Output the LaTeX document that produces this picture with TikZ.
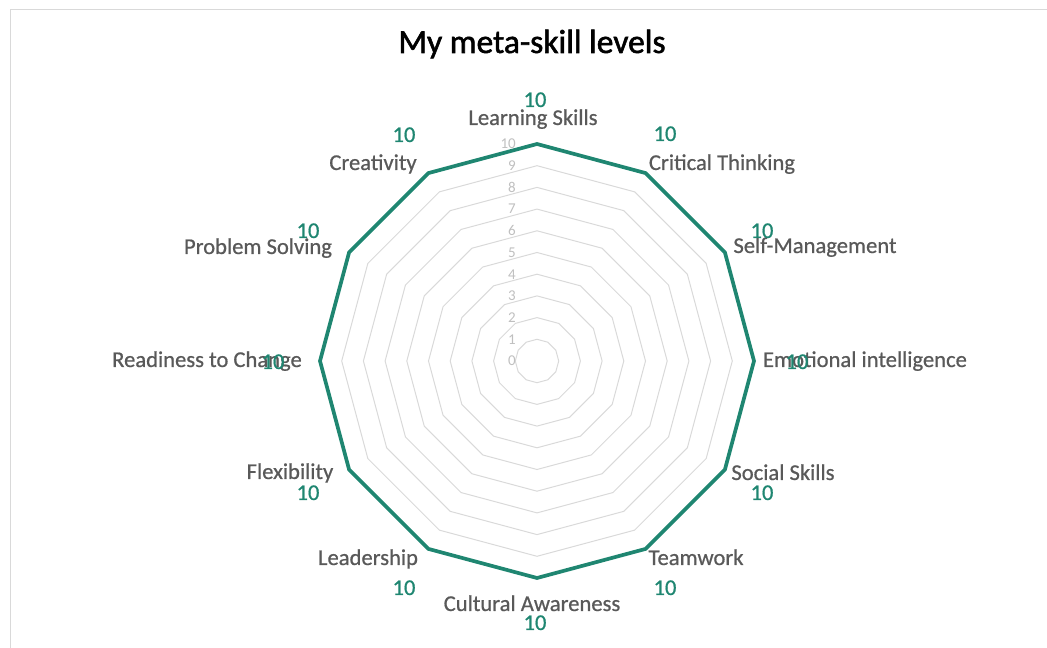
\documentclass[tikz,border=0pt]{standalone}
\usepackage{fontspec}
\setmainfont{Carlito}
\newfontfamily\chartfont{Carlito}[FakeBold=0.7]
\newfontfamily\titlefont{Carlito}[FakeBold=1.6]
\usepackage{xcolor}
\definecolor{chartteal}{RGB}{31,134,113}
\definecolor{gridgray}{RGB}{217,217,217}
\definecolor{labelgray}{RGB}{89,89,89}
\definecolor{tickgray}{RGB}{191,191,191}
\tikzstyle{ring} = [draw=gridgray, line width=1pt]
\tikzstyle{series} = [draw=chartteal, line width=3.7pt, line join=miter]
\tikzstyle{skill} = [text=labelgray, font=\chartfont\fontsize{22.6}{26}\selectfont, inner sep=0pt, text height=14pt, text depth=0pt]
\tikzstyle{score} = [text=chartteal, font=\chartfont\fontsize{22.5}{26}\selectfont, inner sep=0pt, text height=14pt, text depth=0pt]
\tikzstyle{tick} = [text=tickgray, font=\fontsize{15}{18}\selectfont, anchor=east, inner sep=0pt]

\begin{document}
\begin{tikzpicture}[x=1pt, y=1pt]
\useasboundingbox (0,0) rectangle (1047,648);
\draw[gridgray, line width=1.5pt] (10.5,-20) -- (10.5,638.5) -- (1070,638.5);

\node[font=\titlefont\fontsize{33.5}{38}\selectfont, anchor=base] (title) at (532,595) {My meta-skill levels};

\begin{scope}[shift={(537,287)}]
% rings
\foreach \k in {1,...,10}
    \draw[ring] (90:\k*21.7) \foreach \i in {1,...,11} { -- (90-30*\i:\k*21.7)} -- cycle;

% axis numbers
\foreach \k in {0,...,10}
    \node[tick] (tick\k) at (-21,\k*21.7) {\k};

% vertices at level 10
\foreach \i in {0,...,11}
    \coordinate (v\i) at (90-30*\i:217);

\draw[series] (v0) -- (v1) -- (v2) -- (v3) -- (v4) -- (v5) -- (v6) -- (v7) --
    (v8) -- (v9) -- (v10) -- (v11) -- cycle;
\end{scope}

\node[skill] (learning) at (533,530) {Learning Skills};
\node[skill] (critical) at (722,485) {Critical Thinking};
\node[skill] (selfman) at (815,402) {Self-Management};
\node[skill] (emotional) at (865,288) {Emotional intelligence};
\node[skill] (social) at (783,175) {Social Skills};
\node[skill] (team) at (696,90) {Teamwork};
\node[skill] (cultural) at (532,44) {Cultural Awareness};
\node[skill] (leader) at (368,90) {Leadership};
\node[skill] (flex) at (290,176) {Flexibility};
\node[skill] (readiness) at (207,288) {Readiness to Change};
\node[skill] (problem) at (258,401) {Problem Solving};
\node[skill] (creative) at (373,485) {Creativity};

\node[score] (s0) at (535,548) {10};
\node[score] (s1) at (665,514) {10};
\node[score] (s2) at (762,417) {10};
\node[score] (s3) at (797,286) {10};
\node[score] (s4) at (762,155) {10};
\node[score] (s5) at (665,60) {10};
\node[score] (s6) at (535,25) {10};
\node[score] (s7) at (404,60) {10};
\node[score] (s8) at (308,155) {10};
\node[score] (s9) at (273,286) {10};
\node[score] (s10) at (308,417) {10};
\node[score] (s11) at (404,513) {10};
\end{tikzpicture}
\end{document}
